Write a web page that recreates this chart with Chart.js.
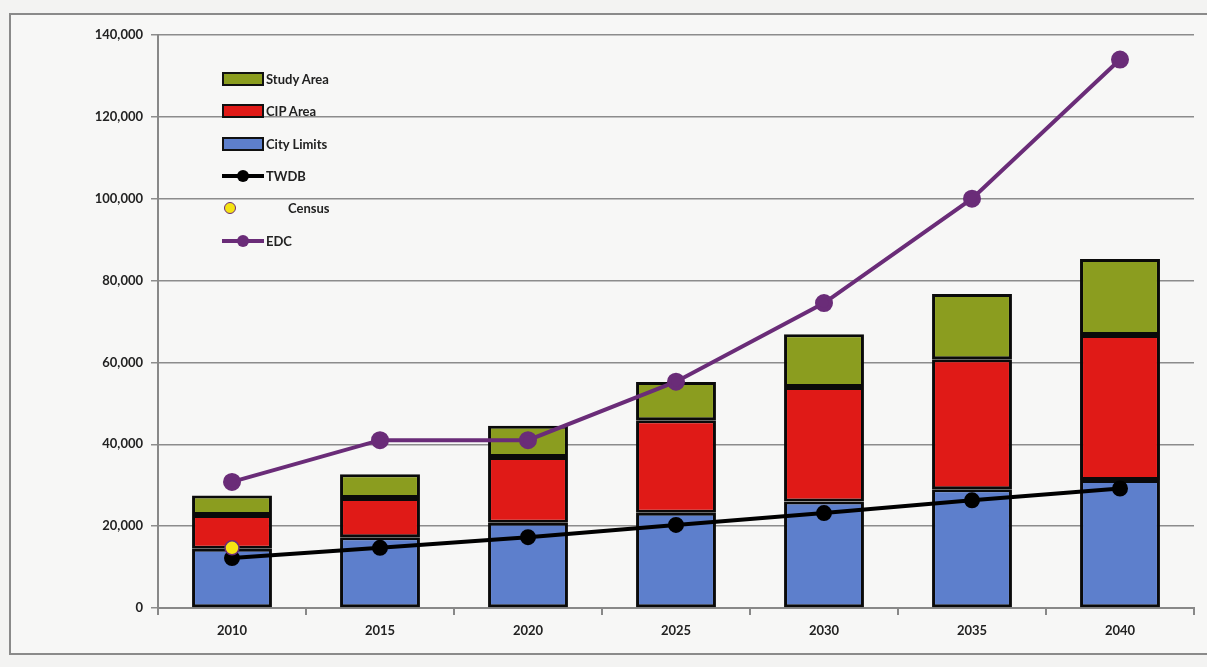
<!DOCTYPE html>
<html>
<head>
<meta charset="utf-8">
<script src="https://cdn.jsdelivr.net/npm/chart.js@4/dist/chart.umd.min.js"></script>
<style>
  html, body { margin: 0; padding: 0; background: #f3f3f2; }
  #wrap { position: relative; width: 1207px; height: 667px; }
  #legend { position: absolute; left: 222px; top: 63px; font-family: Lato, "Open Sans", sans-serif; font-weight: bold; font-size: 13px; color: #222; }
  .row { height: 32.3px; display: flex; align-items: center; }
  .sw { width: 38px; height: 10px; border: 2px solid #111; margin-right: 2px; }
  .ln { width: 42px; position: relative; height: 14px; margin-right: 2px; }
  .ln .bar { position: absolute; left: 0; right: 0; top: 5px; height: 4px; }
  .ln .dot { position: absolute; left: 15px; top: 1px; width: 12px; height: 12px; border-radius: 50%; }
</style>
</head>
<body>
<div id="wrap">
  <canvas id="c" width="1207" height="667"></canvas>
  <div id="legend"></div>
</div>
<script>
const years = ['2010', '2015', '2020', '2025', '2030', '2035', '2040'];
const cityLimits = [14500, 17300, 20800, 23300, 26000, 29000, 31300];
const cipArea = [8200, 9600, 16100, 22600, 28000, 31800, 35400];
const studyArea = [4800, 5800, 7600, 9300, 12900, 15900, 18600];
const twdb = [12200, 14700, 17300, 20300, 23200, 26300, 29200];
const census = [14700, null, null, null, null, null, null];
const edc = [30800, 41000, 41000, 55300, 74500, 100000, 134000];
const yTicks = [0, 20000, 40000, 60000, 80000, 100000, 120000, 140000];

const green = '#8b9d1f', red = '#e01a17', blue = '#5d7fcc', purple = '#6a2c78';

// fondo y marco del gráfico
const marco = {
    id: 'marco',
    beforeDraw(chart) {
        const ctx = chart.ctx;
        ctx.save();
        ctx.fillStyle = '#f7f7f6';
        ctx.fillRect(10, 14, 1200, 640);
        ctx.strokeStyle = '#8a8a8a';
        ctx.lineWidth = 2;
        ctx.strokeRect(10, 14, 1210, 640);
        ctx.restore();
    }
};

const barBase = { borderColor: '#0a0a0a', borderWidth: 3, borderSkipped: false, barPercentage: 0.54, categoryPercentage: 1, stack: 'areas', order: 3 };

new Chart(document.getElementById('c'), {
    type: 'bar',
    data: {
        labels: years,
        datasets: [
            { type: 'line', label: 'EDC', data: edc, stack: 'edc', borderColor: purple, backgroundColor: purple, borderWidth: 4, pointRadius: 7, pointHoverRadius: 7, tension: 0, order: 1 },
            { type: 'line', label: 'Census', data: census, stack: 'census', showLine: false, backgroundColor: '#f5e313', borderColor: purple, borderWidth: 1.5, pointRadius: 7, order: 0 },
            { type: 'line', label: 'TWDB', data: twdb, stack: 'twdb', borderColor: '#000', backgroundColor: '#000', borderWidth: 4, pointRadius: 6, tension: 0, order: 2 },
            Object.assign({ label: 'City Limits', data: cityLimits, backgroundColor: blue }, barBase),
            Object.assign({ label: 'CIP Area', data: cipArea, backgroundColor: red }, barBase),
            Object.assign({ label: 'Study Area', data: studyArea, backgroundColor: green }, barBase)
        ]
    },
    options: {
        responsive: false,
        animation: false,
        layout: { padding: { left: 0, right: 13, top: 35, bottom: 0 } },
        plugins: { legend: { display: false }, tooltip: { enabled: false } },
        scales: {
            x: {
                stacked: true,
                offset: true,
                grid: { display: true, offset: true, drawOnChartArea: false, color: '#888', tickLength: 7, lineWidth: 2 },
                border: { color: '#888', width: 2 },
                ticks: { color: '#222', font: { family: 'Lato', weight: 'bold', size: 13 }, padding: 8 },
                afterFit: s => { s.height = 59; }
            },
            y: {
                stacked: true,
                min: 0,
                max: 140000,
                afterBuildTicks: s => { s.ticks = yTicks.map(v => ({ value: v })); },
                grid: { color: '#8c8c8c', lineWidth: 1.5, tickLength: 7 },
                border: { color: '#888', width: 2 },
                ticks: { color: '#222', font: { family: 'Lato', weight: 'bold', size: 13 }, padding: 8, callback: v => v.toLocaleString('en-US') },
                afterFit: s => { s.width = 158; }
            }
        }
    },
    plugins: [marco]
});

// leyenda
const legendItems = [
    { t: 'Study Area', kind: 'box', c: green },
    { t: 'CIP Area', kind: 'box', c: red },
    { t: 'City Limits', kind: 'box', c: blue },
    { t: 'TWDB', kind: 'line', c: '#000', dot: '#000' },
    { t: 'Census', kind: 'dot', dot: '#f5e313', dotBorder: purple },
    { t: 'EDC', kind: 'line', c: purple, dot: purple }
];
document.getElementById('legend').innerHTML = legendItems.map(it => {
    let mark;
    if (it.kind === 'box') mark = `<div class="sw" style="background:${it.c}"></div>`;
    else if (it.kind === 'line') mark = `<div class="ln"><div class="bar" style="background:${it.c}"></div><div class="dot" style="background:${it.dot}"></div></div>`;
    else mark = `<div class="ln" style="width:64px"><div class="dot" style="left:2px;width:10px;height:10px;background:${it.dot};border:1.5px solid ${it.dotBorder}"></div></div>`;
    return `<div class="row">${mark}<span>${it.t}</span></div>`;
}).join('');
</script>
</body>
</html>
